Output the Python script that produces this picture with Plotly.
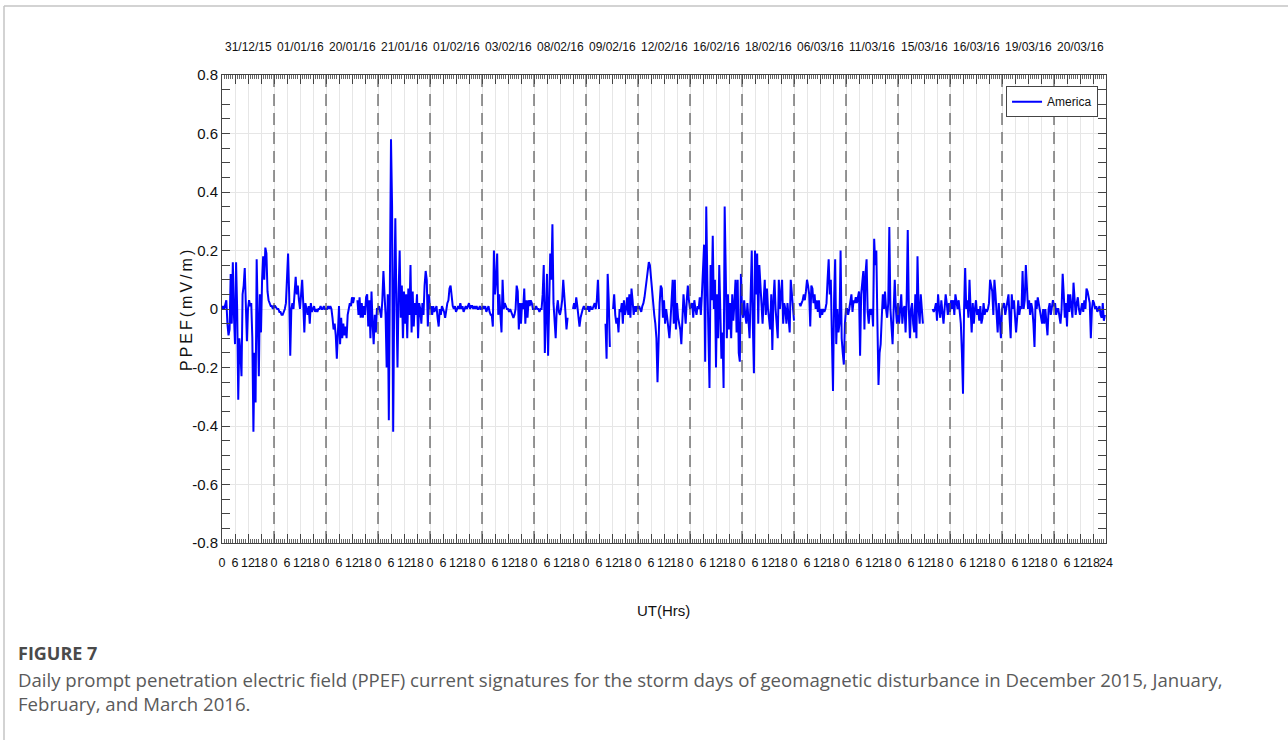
import plotly.graph_objects as go

# ---------------- data (half-hourly PPEF values, mV/m) ----------------
dates = ["31/12/15", "01/01/16", "20/01/16", "21/01/16", "01/02/16", "03/02/16",
         "08/02/16", "09/02/16", "12/02/16", "16/02/16", "18/02/16", "06/03/16",
         "11/03/16", "15/03/16", "16/03/16", "19/03/16", "20/03/16"]

N = None
day0 = [0.0, 0.01, 0.0, 0.02, 0.03, -0.05, -0.09, -0.07, 0.12, -0.05, 0.16, -0.02,
        -0.12, 0.16, 0.0, -0.31, -0.1, -0.15, -0.23, 0.05, 0.08, 0.14, 0.02, -0.11,
        0.0, 0.03, 0.01, 0.02, -0.1, -0.42, -0.15, -0.32, 0.17, -0.08, -0.23, 0.05,
        -0.08, 0.1, 0.18, 0.1, 0.21, 0.19, 0.06, 0.03, 0.02, 0.01, 0.01, 0.0]
day1 = [0.01, 0.01, 0.005, 0.0, 0.0, -0.01, -0.01, -0.02, -0.02, -0.01, 0.0, 0.02,
        0.15, 0.19, 0.05, -0.16, 0.0, 0.02, 0.0, 0.06, 0.11, 0.05, 0.08, 0.03,
        0.0, 0.05, 0.1, 0.02, -0.08, 0.02, 0.0, -0.02, 0.01, -0.05, 0.02, -0.01,
        0.0, 0.01, -0.01, 0.0, -0.01, 0.0, 0.0, 0.01, 0.0, 0.0, 0.01, 0.0]
day2 = [0.0, 0.0, 0.01, 0.0, 0.01, 0.0, -0.03, -0.07, -0.05, -0.09, -0.17, -0.04,
        0.01, -0.12, -0.03, -0.1, -0.05, -0.09, -0.06, -0.1, -0.02, 0.0, 0.02, 0.01,
        0.04, 0.02, 0.04, N, N, 0.03, -0.02, 0.04, -0.03, 0.02, -0.03, 0.01,
        -0.02, 0.04, 0.05, -0.06, 0.03, -0.1, 0.06, -0.05, -0.12, -0.02, -0.08, 0.0]
day3 = [0.0, 0.01, -0.01, -0.03, 0.03, 0.13, 0.05, -0.02, -0.2, 0.05, -0.38, 0.1,
        0.58, 0.35, -0.42, 0.05, 0.31, 0.02, -0.2, 0.05, 0.2, -0.03, 0.08, -0.1,
        0.06, -0.05, 0.05, -0.1, 0.07, -0.02, 0.15, -0.08, 0.06, -0.06, 0.02, -0.02,
        0.05, -0.1, 0.02, 0.0, -0.05, 0.02, -0.02, 0.08, 0.13, 0.1, -0.06, 0.05]
day4 = [0.0, 0.01, -0.02, 0.01, -0.01, 0.0, 0.01, -0.03, -0.06, 0.0, -0.02, 0.01,
        0.0, -0.01, -0.03, 0.0, 0.02, 0.03, 0.07, 0.08, 0.03, 0.01, 0.0, 0.01,
        -0.01, 0.0, 0.01, 0.0, 0.02, 0.0, 0.01, -0.01, 0.0, 0.01, 0.0, 0.01,
        0.02, 0.0, 0.01, 0.01, 0.0, 0.01, 0.0, 0.01, 0.0, 0.0, 0.01, 0.0]
day5 = [0.0, 0.01, 0.0, 0.01, -0.01, 0.0, 0.01, -0.01, -0.02, -0.02, -0.06, 0.2,
        0.05, 0.1, 0.19, -0.02, 0.05, -0.02, -0.08, 0.1, 0.0, 0.02, 0.01, 0.0,
        0.0, -0.01, 0.0, -0.01, -0.02, -0.03, -0.02, 0.0, 0.08, 0.06, -0.07, 0.02,
        -0.05, 0.02, 0.0, 0.07, -0.05, 0.03, -0.03, 0.03, 0.01, 0.03, 0.02, 0.0]
day6 = [0.0, 0.0, 0.01, 0.0, 0.0, -0.01, 0.0, 0.0, 0.05, 0.15, -0.15, 0.05,
        0.12, -0.16, 0.02, 0.19, 0.1, 0.29, 0.02, -0.03, -0.1, 0.0, 0.03, -0.01,
        -0.02, 0.0, 0.03, 0.1, 0.02, -0.01, -0.07, -0.03, N, N, N, N,
        0.0, 0.02, 0.0, 0.04, 0.01, -0.02, -0.06, -0.03, -0.01, 0.0, 0.01, 0.0]
day7 = [0.0, 0.0, 0.01, -0.01, 0.01, 0.0, 0.0, 0.01, 0.02, 0.0, 0.03, 0.1,
        0.0, N, N, N, N, N, -0.05, -0.17, 0.12, 0.03, -0.13, N,
        N, 0.0, 0.05, -0.02, -0.05, -0.03, -0.08, 0.0, -0.01, 0.02, -0.05, 0.03,
        -0.02, 0.0, 0.04, -0.02, 0.05, -0.03, 0.07, 0.03, -0.02, 0.01, -0.01, 0.01]
day8 = [0.0, 0.01, 0.0, -0.01, 0.01, 0.02, 0.04, 0.08, 0.1, 0.13, 0.16, 0.15,
        0.1, 0.05, 0.0, -0.02, -0.05, -0.1, -0.25, -0.05, 0.02, 0.08, 0.07, -0.03,
        0.03, -0.05, 0.0, -0.03, -0.06, -0.1, -0.04, 0.05, 0.1, -0.05, 0.1, -0.07,
        0.02, -0.03, -0.05, -0.07, -0.12, -0.04, 0.05, 0.0, -0.05, 0.03, 0.08, 0.03]
day9 = [0.0, 0.01, 0.02, -0.03, 0.03, 0.0, -0.02, 0.01, 0.0, 0.04, -0.02, 0.05,
        0.12, 0.22, -0.18, 0.35, 0.1, -0.05, -0.27, 0.15, 0.03, 0.25, 0.0, 0.1,
        -0.2, 0.05, -0.1, 0.15, 0.03, -0.17, -0.08, -0.27, 0.35, 0.1, -0.1, 0.05,
        -0.07, 0.02, -0.1, 0.05, -0.04, 0.02, 0.1, -0.08, 0.1, -0.15, -0.18, 0.12]
day10 = [0.0, -0.03, 0.03, -0.02, -0.05, 0.02, -0.03, -0.1, 0.05, 0.2, -0.05, -0.22,
         0.2, 0.05, 0.19, -0.05, 0.15, 0.08, 0.0, -0.05, 0.03, 0.1, -0.02, 0.07,
         0.0, -0.04, -0.07, 0.05, -0.14, 0.03, 0.1, 0.0, -0.06, -0.1, 0.1, 0.0,
         0.05, 0.1, -0.05, 0.02, 0.0, -0.05, 0.02, -0.03, -0.08, 0.1, 0.05, -0.02]
day11 = [-0.04, N, N, N, N, 0.02, 0.01, 0.02, 0.03, 0.05, 0.03, 0.06,
         0.1, 0.08, 0.05, -0.06, 0.08, 0.07, 0.02, 0.05, 0.0, 0.03, -0.01, 0.03,
         -0.03, 0.0, -0.02, 0.0, -0.01, 0.0, 0.02, 0.1, 0.17, 0.05, 0.1, -0.1,
         -0.28, 0.03, 0.17, -0.12, 0.0, -0.08, -0.05, 0.2, -0.1, -0.15, -0.19, -0.05]
day12 = [0.0, 0.0, -0.02, 0.0, 0.02, 0.05, -0.01, 0.03, 0.02, 0.04, 0.02, 0.05,
         0.06, -0.16, 0.05, 0.09, 0.13, -0.07, 0.12, 0.17, -0.01, -0.05, 0.0, -0.02,
         0.0, -0.06, 0.24, 0.15, 0.2, -0.05, -0.26, -0.15, -0.12, -0.03, 0.05, 0.0,
         0.06, 0.0, -0.03, 0.02, 0.28, 0.0, -0.05, -0.12, 0.0, 0.1, 0.0, -0.05]
day13 = [0.02, -0.05, 0.0, 0.05, -0.05, 0.0, 0.01, -0.08, 0.03, 0.27, 0.0, -0.1,
         0.0, 0.02, -0.05, -0.08, 0.05, -0.1, 0.18, 0.0, -0.05, 0.05, 0.0, -0.05,
         N, N, N, N, N, N, N, N, 0.0, -0.01, 0.0, 0.02,
         -0.04, 0.05, 0.0, -0.03, 0.03, 0.0, -0.05, 0.0, 0.05, 0.02, -0.02, 0.02]
day14 = [-0.01, 0.03, 0.0, 0.03, -0.02, 0.05, 0.02, 0.0, 0.03, -0.02, -0.05, -0.15,
         -0.29, 0.0, 0.14, 0.0, 0.03, -0.03, 0.1, 0.0, -0.08, 0.02, -0.05, 0.0,
         0.03, -0.02, 0.0, -0.04, 0.01, -0.05, -0.03, 0.02, -0.02, 0.0, -0.01, 0.0,
         0.02, 0.1, 0.07, 0.06, -0.02, 0.1, 0.05, 0.0, -0.08, 0.02, -0.03, -0.1]
day15 = [0.0, 0.01, 0.02, -0.02, 0.01, 0.03, 0.05, -0.03, -0.1, 0.05, 0.0, 0.03,
         -0.02, -0.08, -0.03, 0.03, -0.02, 0.01, 0.0, 0.13, 0.0, 0.03, 0.15, 0.05,
         0.0, 0.03, -0.02, 0.02, 0.0, -0.05, -0.13, 0.03, 0.0, 0.04, 0.02, 0.0,
         -0.02, -0.05, 0.0, -0.05, 0.0, -0.05, -0.09, 0.0, 0.02, -0.02, 0.0, 0.03]
day16 = [0.01, 0.02, -0.02, 0.0, 0.0, -0.03, -0.05, 0.0, 0.12, 0.05, -0.03, 0.02,
         -0.06, 0.05, -0.01, 0.05, 0.0, -0.03, 0.09, 0.03, -0.02, 0.02, 0.04, 0.0,
         -0.02, 0.0, 0.02, -0.01, 0.03, 0.0, 0.07, 0.06, 0.04, 0.02, -0.1, 0.0,
         0.03, 0.02, 0.0, 0.01, -0.01, 0.0, 0.01, -0.02, -0.03, 0.02, -0.04, -0.02]

days = [day0, day1, day2, day3, day4, day5, day6, day7, day8, day9, day10, day11,
        day12, day13, day14, day15, day16]

hour_ticks = [0, 6, 12, 18]
y_ticks = [-0.8, -0.6, -0.4, -0.2, 0, 0.2, 0.4, 0.6, 0.8]
y_tick_text = ["-0.8", "-0.6", "-0.4", "-0.2", "0", "0.2", "0.4", "0.6", "0.8"]

caption_title = "FIGURE 7"
caption_text = ("Daily prompt penetration electric field (PPEF) current signatures for the storm days "
                "of geomagnetic disturbance in December 2015, January,<br>February, and March 2016.")

# ---------------- build series ----------------
xs, ys = [], []
for k, d in enumerate(days):
    step = 24.0 / len(d)
    for i, v in enumerate(d):
        xs.append(24 * k + i * step)
        ys.append(v)

ndays = len(days)
total = 24 * ndays
tickvals, ticktext = [], []
for k in range(ndays):
    for h in hour_ticks:
        tickvals.append(24 * k + h)
        ticktext.append(str(h))
tickvals.append(total)
ticktext.append("24")

SANS = "Liberation Sans, Arial, sans-serif"

fig = go.Figure()
fig.add_trace(go.Scatter(x=xs, y=ys, mode="lines", name="America",
                         line=dict(color="#0000FF", width=2),
                         connectgaps=False))

shapes = []
for k in range(1, ndays):
    shapes.append(dict(type="line", xref="x", yref="paper", x0=24 * k, x1=24 * k,
                       y0=0, y1=1, line=dict(color="#555555", width=1.2, dash="12px,7px")))

# page frame (light border top and left)
L, T, W, H = 222, 75, 884, 468
def px(x):
    return (x - L) / W
def py(y):
    return (T + H - y) / H
shapes.append(dict(type="line", xref="paper", yref="paper", x0=px(4), x1=px(1290),
                   y0=py(6), y1=py(6), line=dict(color="#c4c4c4", width=1.5)))
shapes.append(dict(type="line", xref="paper", yref="paper", x0=px(4), x1=px(4),
                   y0=py(6), y1=py(745), line=dict(color="#c4c4c4", width=1.5)))

annotations = []
for k, d in enumerate(dates):
    annotations.append(dict(x=24 * k + 12, y=py(47), xref="x", yref="paper", text=d,
                            showarrow=False, font=dict(family=SANS, size=12, color="#111111"),
                            xanchor="center", yanchor="middle"))
annotations.append(dict(x=px(663), y=py(610), xref="paper", yref="paper", text="UT(Hrs)",
                        showarrow=False, font=dict(family=SANS, size=15, color="#111111"),
                        xanchor="center", yanchor="middle"))
annotations.append(dict(x=px(186), y=py(309), xref="paper", yref="paper",
                        text='<span style="letter-spacing:3px">PPEF(mV/m)</span>',
                        textangle=-90, showarrow=False,
                        font=dict(family=SANS, size=16, color="#111111"),
                        xanchor="center", yanchor="middle"))
annotations.append(dict(x=px(16), y=py(653), xref="paper", yref="paper",
                        text="<b>" + caption_title + "</b>",
                        showarrow=False, font=dict(family="Open Sans, sans-serif", size=18, color="#4a4a4a"),
                        xanchor="left", yanchor="middle"))
annotations.append(dict(x=px(16), y=py(665), xref="paper", yref="paper",
                        text=caption_text, align="left",
                        showarrow=False, font=dict(family="Open Sans, sans-serif", size=18.6, color="#5a5a5a"),
                        xanchor="left", yanchor="top"))

fig.update_layout(
    width=1288, height=740,
    margin=dict(l=L, r=1288 - L - W, t=T, b=740 - T - H),
    paper_bgcolor="white", plot_bgcolor="white",
    showlegend=True,
    legend=dict(x=0.991, y=0.976, xanchor="right", yanchor="top",
                bgcolor="white", bordercolor="#444444", borderwidth=1,
                font=dict(family=SANS, size=12, color="#111111"),
                itemwidth=30, tracegroupgap=0),
    shapes=shapes, annotations=annotations,
    xaxis=dict(range=[0, total], tickmode="array", tickvals=tickvals, ticktext=ticktext,
               ticks="inside", ticklen=9, tickwidth=1, tickcolor="#444444",
               showgrid=True, gridcolor="#e6e6e6", gridwidth=1,
               showline=True, linecolor="#444444", linewidth=1, mirror="allticks",
               zeroline=False, tickangle=0, ticklabelstandoff=8,
               tickfont=dict(family=SANS, size=12.5, color="#111111"),
               minor=dict(tickmode="array", tickvals=list(range(0, total + 1)),
                          ticks="inside", ticklen=4, tickcolor="#666666", showgrid=False)),
    yaxis=dict(range=[-0.8, 0.8], tickmode="array", tickvals=y_ticks, ticktext=y_tick_text,
               ticks="inside", ticklen=8, tickwidth=1, tickcolor="#444444",
               showgrid=True, gridcolor="#e6e6e6", gridwidth=1,
               showline=True, linecolor="#444444", linewidth=1, mirror="allticks",
               zeroline=False,
               tickfont=dict(family=SANS, size=15, color="#111111"),
               minor=dict(dtick=0.05, tick0=0, ticks="inside", ticklen=8,
                          tickcolor="#444444", showgrid=False)),
)

fig.write_html("out.html")
